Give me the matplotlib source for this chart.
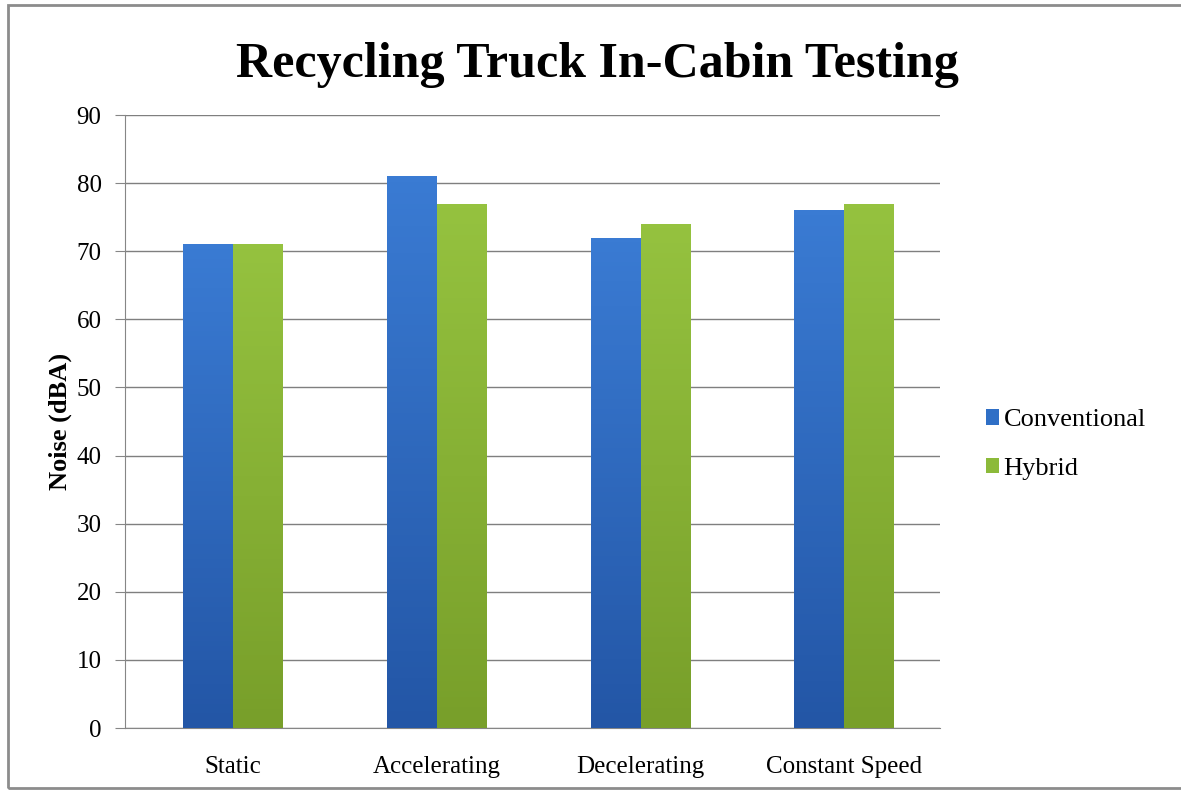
import numpy as np
import matplotlib
matplotlib.use("Agg")
import matplotlib.pyplot as plt
from matplotlib.patches import Rectangle
from matplotlib.colors import LinearSegmentedColormap

plt.rcParams['font.family'] = ['Liberation Serif', 'DejaVu Serif']

categories = ['Static', 'Accelerating', 'Decelerating', 'Constant Speed']
conventional = [71, 81, 72, 76]
hybrid = [71, 77, 74, 77]
yticks = [0, 10, 20, 30, 40, 50, 60, 70, 80, 90]

fig = plt.figure(figsize=(11.81, 7.91), dpi=100)
ax = fig.add_axes([0.106, 0.0796, 0.69, 0.775])

x = np.arange(len(categories))
w = 0.245
b1 = ax.bar(x - w/2 + 0.03, conventional, w, color='#2f6fc6', label='Conventional', zorder=3)
b2 = ax.bar(x + w/2 + 0.03, hybrid, w, color='#8cba3a', label='Hybrid', zorder=3)

# soft vertical shading on the bars
grad = np.linspace(0, 1, 100).reshape(-1, 1)
cm_blue = LinearSegmentedColormap.from_list('b', ['#2356a6', '#3a7bd3'])
cm_green = LinearSegmentedColormap.from_list('g', ['#789f2a', '#95c23f'])
for bars, cm in [(b1, cm_blue), (b2, cm_green)]:
    for r in bars:
        x0, y0 = r.get_x(), r.get_y()
        im = ax.imshow(grad, cmap=cm, origin='lower', aspect='auto',
                       extent=(x0, x0 + r.get_width(), y0, y0 + r.get_height()), zorder=4)
        im.set_clip_path(r)

ax.set_xlim(-0.5, 3.5)
ax.set_ylim(0, 90)
ax.set_yticks(yticks)
ax.set_xticks(x + 0.03)
ax.set_xticklabels(categories, fontsize=18)
ax.tick_params(axis='y', labelsize=18, length=7, color='#868686', pad=10)
ax.tick_params(axis='x', length=0, pad=20)
ax.yaxis.grid(True, color='#7f7f7f', lw=1, zorder=0)
for s in ['top', 'right']:
    ax.spines[s].set_visible(False)
ax.spines['left'].set_color('#868686')
ax.spines['bottom'].set_color('#868686')

ax.set_ylabel('Noise (dBA)', fontsize=19, fontweight='bold', labelpad=3)

fig.text(0.506, 0.918, 'Recycling Truck In-Cabin Testing', ha='center', va='center',
         fontsize=36, fontweight='bold')

fig.legend(handles=[b1, b2], loc='center left', bbox_to_anchor=(0.815, 0.438),
           frameon=False, fontsize=19, handlelength=0.5, handleheight=0.5,
           handletextpad=0.15, labelspacing=1.0)

# outer chart frame
fig.patches.append(Rectangle((8/1181, 3/791), 1.2, 1 - 8/791, transform=fig.transFigure,
                             fill=False, edgecolor='#8c8c8c', lw=2))

plt.savefig('out.png', dpi=100)
